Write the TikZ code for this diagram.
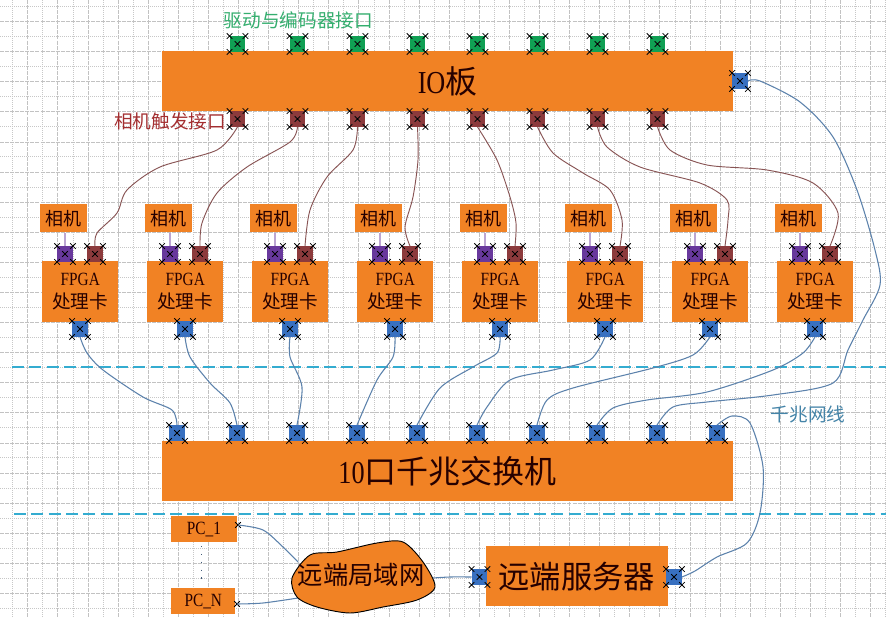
\documentclass[tikz,border=0pt]{standalone}
\usepackage{fontspec}
\setmainfont[FakeStretch=0.82]{Liberation Serif}
\newfontfamily\cjk{Noto Sans CJK SC}
\usepackage{xcolor}
\usetikzlibrary{shapes.misc}
\definecolor{boxorange}{RGB}{241,130,36}
\definecolor{portblue}{RGB}{56,112,192}
\definecolor{portgreen}{RGB}{16,160,84}
\definecolor{portred}{RGB}{140,58,60}
\definecolor{portpurple}{RGB}{104,56,156}
\definecolor{wireblue}{RGB}{92,130,172}
\definecolor{wirered}{RGB}{136,84,84}
\definecolor{splitblue}{RGB}{52,172,208}
\tikzset{
  box/.style={fill=boxorange,text=black!85!red,align=center,inner sep=0pt,anchor=north west},
  portbox/.style={fill=#1,inner sep=0pt,minimum size=11.5pt},
  handle/.style={cross out,draw=black,fill=white,line width=.6pt,inner sep=0pt,outer sep=0pt,minimum size=4.2pt},
  trigwire/.style={draw=wirered,line width=.7pt},
  netwire/.style={draw=wireblue,line width=.8pt},
  split/.style={draw=splitblue,line width=.8pt,dash pattern=on 9pt off 4pt}
}
% port square with its five handles
\newcommand{\port}[4]{
  \node[portbox=#4] (#1) at (#2,#3) {};
  \foreach \a in {north west,north east,south west,south east,center}
    \node[handle] at (#1.\a) {};
}
\begin{document}
\begin{tikzpicture}[x=.75pt,y=-.75pt]
  \useasboundingbox (0,0) rectangle (886,618);
  \fill[white] (0,0) rectangle (886,618);
  % grid
  \foreach \k in {0,...,29} {
    \draw[black!22,line width=.5pt,densely dotted] ({12.7+30.1*\k},0) -- ({12.7+30.1*\k},618);
    \draw[black!24,line width=.6pt,dash pattern=on 3pt off .8pt] ({27.7+30.1*\k},0) -- ({27.7+30.1*\k},618);
    \draw[black!22,line width=.5pt,densely dotted] (0,{6.3+30.1*\k}) -- (886,{6.3+30.1*\k});
    \draw[black!24,line width=.6pt,dash pattern=on 3pt off .8pt] (0,{21.5+30.1*\k}) -- (886,{21.5+30.1*\k});
  }
  \draw[split] (12,367) -- (886,367);
  \draw[split] (14,514) -- (886,514);

  % boards
  \node[box,minimum width=428pt,minimum height=45pt,font=\fontsize{24}{26}\selectfont] (io) at (162,51) {IO{\cjk 板}};
  \node[box,minimum width=428pt,minimum height=45pt,font=\fontsize{24}{26}\selectfont] (switch) at (162,441) {10{\cjk 口千兆交换机}};
  \node[box,minimum width=136pt,minimum height=45pt,font=\fontsize{23.5}{26}\cjk] (server) at (486,546) {远端服务器};
  \node[box,minimum width=49pt,minimum height=19.5pt,font=\fontsize{14}{15}\selectfont] (pc1) at (171,516) {PC\_1};
  \node[box,minimum width=48pt,minimum height=19.5pt,font=\fontsize{14}{15}\selectfont] (pcn) at (171,588) {PC\_N};

  % FPGA cards with camera
  \foreach \i in {0,...,7} {
    \node[box,minimum width=35.5pt,minimum height=21pt,font=\fontsize{13.5}{15}\cjk] (cam\i) at ({39.5+105*\i},204) {相机};
    \node[box,minimum width=57pt,minimum height=45.5pt,font=\fontsize{14}{17.5}\selectfont] (card\i) at ({42+105*\i},261) {FPGA\\{\cjk 处理卡}};
    \draw[draw=portpurple!45,line width=1.6pt] (cam\i.south -| {65+105*\i},0) -- ({65+105*\i},248);
  }
  \foreach \i in {0,...,7} {
    \port{drive\i}{237.5+60*\i}{44}{portgreen}
    \port{trig\i}{237.5+60*\i}{119}{portred}
    \port{sync\i}{65+105*\i}{254}{portpurple}
    \port{trigin\i}{95+105*\i}{254}{portred}
    \port{net\i}{80+105*\i}{329}{portblue}
  }
  \foreach \i in {0,...,9} {
    \port{sw\i}{177+60*\i}{433}{portblue}
  }
  \port{ionet}{740}{81}{portblue}
  \port{srvlan}{479.5}{577}{portblue}
  \port{srvnet}{674}{577}{portblue}
  \node[handle] (pc1end) at (238,525) {};
  \node[handle] (pcnend) at (237,604) {};
  \draw[wireblue!70!black,line width=.9pt,dash pattern=on .9pt off 5pt] (201.5,546) -- (201.5,582);

  % trigger wires
  \draw[trigwire] plot[smooth] coordinates {(trig0.south) (217,150) (160,167) (127,190) (117,213) (97,233) (trigin0.north)};
  \draw[trigwire] plot[smooth] coordinates {(trig1.south) (290,142) (247,167) (217,193) (202,223) (trigin1.north)};
  \draw[trigwire] plot[smooth] coordinates {(trig2.south) (353,150) (327,177) (310,210) (trigin2.north)};
  \draw[trigwire] plot[smooth] coordinates {(trig3.south) (418,160) (413,197) (405,227) (trigin3.north)};
  \draw[trigwire] plot[smooth] coordinates {(trig4.south) (497,160) (510,197) (516,223) (trigin4.north)};
  \draw[trigwire] plot[smooth] coordinates {(trig5.south) (553,153) (583,173) (610,190) (622,220) (trigin5.north)};
  \draw[trigwire] plot[smooth] coordinates {(trig6.south) (607,147) (640,167) (700,183) (727,200) (728,220) (trigin6.north)};
  \draw[trigwire] plot[smooth] coordinates {(trig7.south) (670,150) (707,165) (767,170) (813,183) (838,213) (trigin7.north)};

  % network wires
  \draw[netwire] plot[smooth] coordinates {(net0.south) (87,353) (103,370) (143,397) (172,410) (sw0.north)};
  \draw[netwire] plot[smooth] coordinates {(net1.south) (190,357) (210,383) (230,403) (sw1.north)};
  \draw[netwire] plot[smooth] coordinates {(net2.south) (290,357) (302,387) (sw2.north)};
  \draw[netwire] plot[smooth] coordinates {(net3.south) (393,357) (377,380) (sw3.north)};
  \draw[netwire] plot[smooth] coordinates {(net4.south) (497,353) (473,367) (440,388) (sw4.north)};
  \draw[netwire] plot[smooth] coordinates {(net5.south) (590,360) (553,370) (510,380) (487,407) (sw5.north)};
  \draw[netwire] plot[smooth] coordinates {(net6.south) (693,355) (653,368) (573,388) (547,400) (sw6.north)};
  \draw[netwire] plot[smooth] coordinates {(net7.south) (803,353) (773,370) (707,392) (647,400) (613,408) (sw7.north)};
  \draw[netwire] plot[smooth] coordinates {(ionet.east) (760,81) (800,102) (833,137) (857,190) (875,250) (880,285) (863,320) (848,350) (833,383) (773,395) (707,402) (673,407) (sw8.north)};
  \draw[netwire] plot[smooth] coordinates {(sw9.north) (732,416) (750,423) (763,467) (760,513) (747,543) (717,557) (695,571) (srvnet.east)};

  % remote network
  \coordinate (lantop) at (298,562);
  \coordinate (lanbot) at (298,598);
  \coordinate (lanright) at (433,578);
  \draw[netwire] plot[smooth] coordinates {(pc1end) (263,530) (283,547) (lantop)};
  \draw[netwire] plot[smooth] coordinates {(pcnend) (263,603) (lanbot)};
  \draw[netwire] plot[smooth] coordinates {(lanright) (450,577) (srvlan.west)};
  \draw[black,fill=boxorange,line width=.7pt] plot[smooth cycle] coordinates {(292,578) (310,555) (337,552) (377,543) (403,542) (423,562) (435,587) (417,600) (383,607) (350,613) (317,607) (297,597)};
  \node[font=\fontsize{19}{21}\cjk,text=black!85!red,inner sep=0pt] (lan) at (361,575) {远端局域网};

  % labels
  \node[font=\fontsize{14}{16}\cjk,text=portgreen!85!white,inner sep=0pt] (drivelabel) at (298.5,20) {驱动与编码器接口};
  \node[font=\fontsize{14}{16}\cjk,text=portred!80!red,inner sep=0pt] (triglabel) at (170,121) {相机触发接口};
  \node[font=\fontsize{14}{16}\cjk,text=wireblue!60!splitblue!90!black,inner sep=0pt] (netlabel) at (808,414) {千兆网线};
\end{tikzpicture}
\end{document}
